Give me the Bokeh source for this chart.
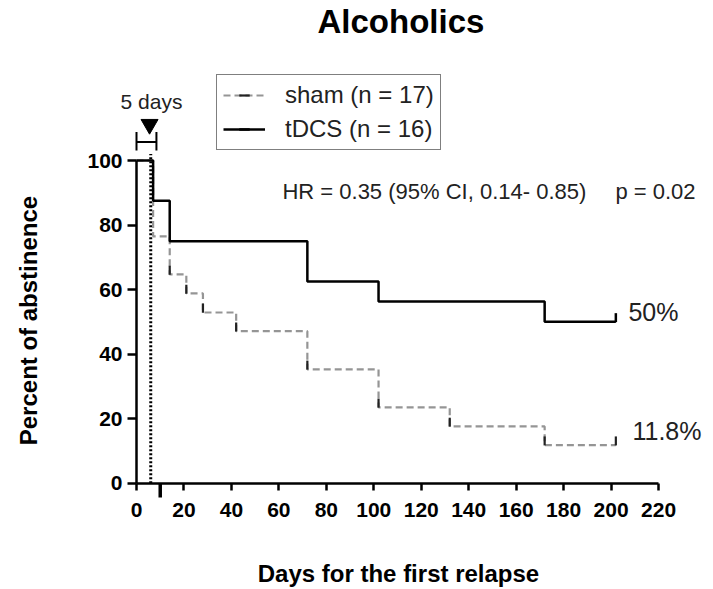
from bokeh.plotting import figure
from bokeh.models import Range1d, Legend, LegendItem, FixedTicker, Label
from bokeh.embed import file_html
from bokeh.resources import INLINE
import math

# ---- data ----
sham_days = [0, 7, 14, 21, 28, 42, 72, 102, 132, 172, 202]
sham_pct = [100, 76.5, 64.7, 58.8, 52.9, 47.1, 35.3, 23.5, 17.6, 11.8, 11.8]
tdcs_days = [0, 7, 14, 72, 102, 172, 202]
tdcs_pct = [100, 87.5, 75, 62.5, 56.3, 50, 50]
sham_tick_days = [14, 21, 28, 42, 72, 102, 132, 172, 202]
sham_tick_pct = [64.7, 58.8, 52.9, 47.1, 35.3, 23.5, 17.6, 11.8, 11.8]
tdcs_tick_days = [202]
tdcs_tick_pct = [50]
x_ticks = list(range(0, 221, 20))
y_ticks = list(range(0, 101, 20))
marker_day = 6          # dotted "5 days" line
bracket_days = [0, 8.4]
relapse_mark_day = 10
final_labels = ["50%", "11.8%"]
final_label_pct = [53.2, 16.3]
hr_text = "HR = 0.35 (95% CI, 0.14- 0.85)"
p_text = "p = 0.02"
x_title = "Days for the first relapse"
y_title = "Percent of abstinence"

FONT = "Liberation Sans"
PX_PER_DAY = 2.373
PX_PER_UNIT = 3.227
AXIS_X_PX = 136.0      # x = 0
AXIS_Y_PX = 482.7      # y = 0
FRAME_TOP = 39.0
X_START = -AXIS_X_PX / PX_PER_DAY
X_END = (713 - AXIS_X_PX) / PX_PER_DAY
Y_TOP = (AXIS_Y_PX - FRAME_TOP) / PX_PER_UNIT
Y_START = -(589 - AXIS_Y_PX) / PX_PER_UNIT

p = figure(width=713, height=589, output_backend="svg", toolbar_location=None,
           title="Alcoholics",
           x_range=Range1d(X_START, X_END), y_range=Range1d(Y_START, Y_TOP),
           min_border_left=0, min_border_right=0, min_border_top=0,
           min_border_bottom=0)
p.outline_line_color = None
p.grid.visible = False
p.background_fill_color = "white"
p.border_fill_color = "white"

p.title.text_font = FONT
p.title.text_font_size = "33px"
p.title.text_font_style = "bold"
p.title.text_color = "black"
p.title.align = "left"
p.title.offset = 317
p.title.standoff = 0

for ax in (p.xaxis[0], p.yaxis[0]):
    ax.fixed_location = 0
    ax.axis_line_width = 2.5
    ax.major_tick_line_width = 2.5
    ax.major_tick_in = 0
    ax.minor_tick_out = 0
    ax.minor_tick_in = 0
    ax.major_label_text_font = FONT
    ax.major_label_text_font_size = "21px"
    ax.major_label_text_font_style = "bold"
    ax.major_label_text_color = "black"

p.xaxis.bounds = (0, 220)
p.xaxis.ticker = FixedTicker(ticks=x_ticks)
p.xaxis.major_tick_out = 7
p.xaxis.major_label_standoff = 13

p.yaxis.bounds = (0, 100)
p.yaxis.ticker = FixedTicker(ticks=y_ticks)
p.yaxis.major_tick_out = 9
p.yaxis.major_label_standoff = 5

# axis titles
p.add_layout(Label(x=(x_ticks[0] + x_ticks[-1]) / 2 + 0.4, y=-28.0, text=x_title,
                   text_font=FONT, text_font_size="24px", text_font_style="bold",
                   text_align="center", text_baseline="middle", text_color="black"))
p.add_layout(Label(x=-45.5, y=(y_ticks[0] + y_ticks[-1]) / 2 + 0.4, text=y_title,
                   angle=math.pi / 2, text_font=FONT, text_font_size="24px",
                   text_font_style="bold", text_align="center",
                   text_baseline="middle", text_color="black"))

# dotted 5-day line and bracket annotation
p.segment(x0=[marker_day], y0=[0], x1=[marker_day], y1=[102],
          line_color="black", line_width=3, line_dash="2 2")
p.segment(x0=[bracket_days[0]], y0=[105.7], x1=[bracket_days[1]], y1=[105.7],
          line_color="black", line_width=2)
p.segment(x0=bracket_days, y0=[103.1, 103.1], x1=bracket_days, y1=[108.8, 108.8],
          line_color="black", line_width=2)
p.scatter(x=[5.5], y=[111.2], marker="inverted_triangle", size=17,
          fill_color="black", line_color="black")
p.add_layout(Label(x=6.3, y=118.4, text="5 days", text_font=FONT,
                   text_font_size="21px", text_align="center",
                   text_baseline="middle", text_color="#222222"))

# survival curves
sham_line = p.step(sham_days, sham_pct, mode="after", line_color="#959595",
                   line_width=2.2, line_dash="7 4")
sham_ticks = p.scatter(sham_tick_days, [v + 1.3 for v in sham_tick_pct],
                       marker="dash", angle=math.pi / 2, size=9,
                       line_color="#222222", line_width=2.2)
tdcs_line = p.step(tdcs_days, tdcs_pct, mode="after", line_color="black",
                   line_width=2.5)
tdcs_ticks = p.scatter(tdcs_tick_days, [v + 1.3 for v in tdcs_tick_pct],
                       marker="dash", angle=math.pi / 2, size=9,
                       line_color="black", line_width=2.5)

# relapse mark below the axis
p.segment(x0=[relapse_mark_day], y0=[0], x1=[relapse_mark_day], y1=[-4.4],
          line_color="black", line_width=3.5)

legend = Legend(items=[LegendItem(label="sham (n = 17)", renderers=[sham_line, sham_ticks]),
                       LegendItem(label="tDCS (n = 16)", renderers=[tdcs_line, tdcs_ticks])],
                location=(216, 589 - 150), margin=0,
                padding=6, spacing=6,
                glyph_width=42, glyph_height=26, label_height=26,
                label_standoff=20, border_line_color="black", border_line_width=1.5,
                label_text_font=FONT, label_text_font_size="24px",
                label_text_color="#222222", background_fill_alpha=1)
p.add_layout(legend)

p.add_layout(Label(x=61.5, y=90.5, text=hr_text, text_font=FONT,
                   text_font_size="22px", text_baseline="middle",
                   text_align="left", text_color="#222222"))
p.add_layout(Label(x=218.7, y=90.5, text=p_text, text_font=FONT,
                   text_font_size="22px", text_baseline="middle",
                   text_align="center", text_color="#222222"))
p.add_layout(Label(x=207.3, y=final_label_pct[0], text=final_labels[0], text_font=FONT,
                   text_font_size="25px", text_baseline="middle",
                   text_align="left", text_color="#222222"))
p.add_layout(Label(x=209, y=final_label_pct[1], text=final_labels[1], text_font=FONT,
                   text_font_size="25px", text_baseline="middle",
                   text_align="left", text_color="#222222"))

open("out.html", "w").write(file_html(p, INLINE))
